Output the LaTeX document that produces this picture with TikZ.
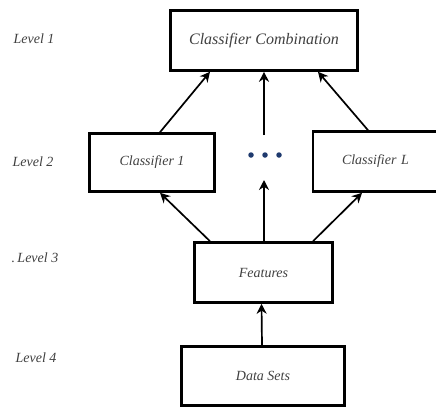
\documentclass[tikz,border=0pt]{standalone}
\usepackage{fontspec}
\setmainfont{Liberation Serif}
\usetikzlibrary{arrows.meta}
\definecolor{txt}{HTML}{404040}
\definecolor{dotblue}{HTML}{1F3A6E}
\tikzset{
  box/.style={draw=black, line width=2.6pt, inner sep=0pt, font=\fontsize{14}{16}\selectfont\itshape, text=txt},
  lvl/.style={font=\fontsize{14}{16}\selectfont\itshape, text=txt, inner sep=0pt},
  arr/.style={line width=1.7pt, -{Stealth[length=10pt,width=10pt]}},
  dotc/.style={circle, fill=dotblue, inner sep=0pt, minimum size=5.5pt}
}
\begin{document}
\begin{tikzpicture}[x=1pt,y=-1pt]
\useasboundingbox (0,0) rectangle (436,407);
% boxes
\node[box, minimum width=187pt, minimum height=60pt] (comb) at (264,40.5) {\fontsize{16}{18}\selectfont Classifier Combination};
\node[box, minimum width=125pt, minimum height=58pt] (c1) at (152,162.5) {Classifier 1};
\node[box, minimum width=128pt, minimum height=60pt, text width=128pt, align=left] (cL) at (377,161.5) {\hspace*{29pt}Classifier L};
\node[box, minimum width=138pt, minimum height=60pt] (feat) at (263.5,272.5) {Features};
\node[box, minimum width=163pt, minimum height=59pt] (data) at (263,376) {Data Sets};
% level labels
\node[lvl] (l1) at (34,39) {Level 1};
\node[lvl] (l2) at (33,162) {Level 2};
\node[lvl] (l3) at (35,258) {.\,Level 3};
\node[lvl] (l4) at (36,358) {Level 4};
% dots
\node[dotc] (d1) at (251,155) {};
\node[dotc] (d2) at (265,155) {};
\node[dotc] (d3) at (279,155) {};
\coordinate (mtop) at (264,135);
\coordinate (mbot) at (264,180);
% arrows
\draw[arr] ([xshift=8pt]c1.north) -- ([xshift=-54pt]comb.south);
\draw[arr] (mtop) -- (comb.south);
\draw[arr] ([xshift=-9pt]cL.north) -- ([xshift=54pt]comb.south);
\draw[arr] ([xshift=-53.5pt]feat.north) -- ([xshift=8pt]c1.south);
\draw[arr] ([xshift=0.5pt]feat.north) -- (mbot);
\draw[arr] ([xshift=49.5pt]feat.north) -- ([xshift=-15pt]cL.south);
\draw[arr] ([xshift=-1pt]data.north) -- ([xshift=-2pt]feat.south);
\end{tikzpicture}
\end{document}
